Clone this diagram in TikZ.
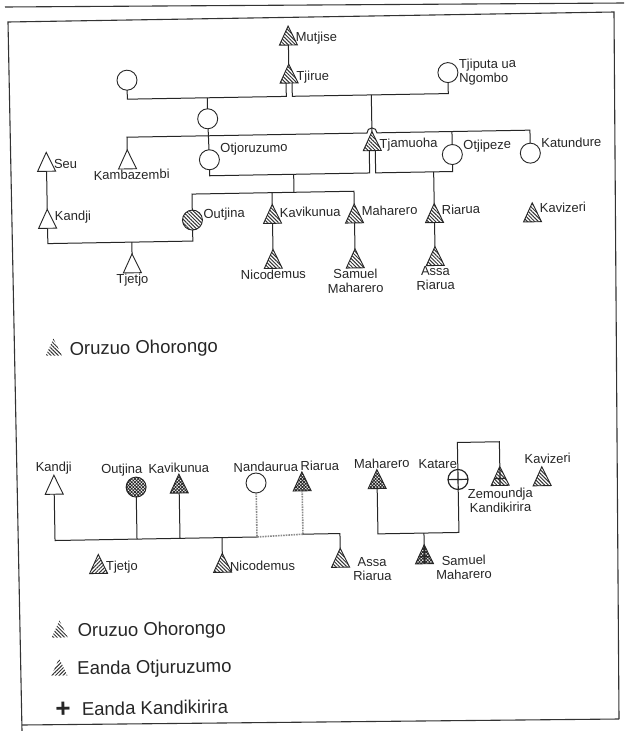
\documentclass[tikz,border=0pt]{standalone}
\usepackage{fontspec}
\setmainfont{Liberation Sans}
\usetikzlibrary{positioning,shapes.geometric,patterns.meta}

\newcommand{\lblfont}{\fontsize{13}{14}\selectfont}
\newcommand{\legfont}{\fontsize{18.5}{20}\selectfont}

\tikzset{
  kin/.style={draw=black!85, line width=1pt},
  frame/.style={draw=black!80, line width=1.1pt},
  person/.style={draw=black!85, line width=0.9pt, inner sep=0pt, outer sep=0pt, label distance=2pt},
  man/.style={person, isosceles triangle, isosceles triangle stretches, shape border rotate=90, minimum width=18pt, minimum height=19pt},
  woman/.style={person, circle, minimum size=20pt},
  oruzuo/.style={pattern={Lines[angle=-45,distance=2.6pt,line width=1pt]}, pattern color=black!80},
  otjuruzumo/.style={pattern={Lines[angle=45,distance=2.6pt,line width=1pt]}, pattern color=black!80},
  bothclans/.style={pattern={Hatch[angle=45,distance=2.3pt,line width=0.8pt]}, pattern color=black!85},
  crossT/.style={path picture={\draw[line width=1.2pt] (path picture bounding box.north) -- (path picture bounding box.south); \draw[line width=1.2pt] ([yshift=7pt]path picture bounding box.south west) -- ([yshift=7pt]path picture bounding box.south east);}},
  crossC/.style={line width=1.2pt, path picture={\draw[line width=1.2pt] (path picture bounding box.north) -- (path picture bounding box.south) (path picture bounding box.west) -- (path picture bounding box.east);}},
  every label/.style={font=\lblfont, text=black!85, inner sep=1pt},
  legicon/.style={isosceles triangle, isosceles triangle stretches, shape border rotate=90, minimum width=16pt, minimum height=17pt, inner sep=0pt},
  legtxt/.style={font=\legfont, text=black!85, inner sep=0pt},
  greyline/.style={draw=black!45, densely dotted, line width=1.6pt},
}

\begin{document}
\begin{tikzpicture}[x=1pt, y=-1pt]
\useasboundingbox (0,0) rectangle (625,731);
\fill[white] (0,0) rectangle (625,731);

\draw[frame] (5,7) -- (624,3);
\draw[frame] (22,731) -- (8,22) -- (614,12) -- (619,719);
\draw[frame] (21.8,725) -- (619,719);

\begin{scope}[transform canvas={rotate around={1:(312,365)}}]

\node[man, oruzuo, label={[yshift=1pt]right:Mutjise}] (mutjise) at (294,39) {};
\node[man, oruzuo, label={right:Tjirue}] (tjirue) at (294,77) {};
\node[woman] (wife) at (132,77) {};
\node[woman, label={[align=left]right:Tjiputa ua\\Ngombo}] (tjiputa) at (453,75) {};
\node[woman] (daughter) at (212,117) {};
\node[woman, label={[yshift=10pt]right:Otjoruzumo}] (otjoruzumo) at (213,158) {};
\node[man, label={[xshift=4pt]below:Kambazembi}] (kambazembi) at (131,160) {};
\node[man, oruzuo, label={right:Tjamuoha}] (tjamuoha) at (376,146) {};
\node[woman, label={[yshift=8pt]right:Otjipeze}] (otjipeze) at (456,157) {};
\node[woman, label={[yshift=10pt]right:Katundure}] (katundure) at (534,157) {};
\node[man, label={[yshift=1pt]right:Seu}] (seu) at (50,161) {};
\node[man, label={[yshift=5pt]right:Kandji}] (kandji) at (50,218) {};
\node[woman, oruzuo, label={[yshift=5pt]right:Outjina}] (outjina) at (195,218) {};
\node[man, oruzuo, label={[yshift=5pt]right:Kavikunua}] (kavikunua) at (275,217) {};
\node[man, oruzuo, label={[yshift=6pt]right:Maharero}] (maharero) at (357,218) {};
\node[man, oruzuo, label={[yshift=7pt]right:Riarua}] (riarua) at (437,219) {};
\node[man, oruzuo, label={[yshift=8pt]right:Kavizeri}] (kavizeri) at (535,220) {};
\node[man, label={below:Tjetjo}] (tjetjo) at (134,264) {};
\node[man, oruzuo, label={below:Nicodemus}] (nicodemus) at (275,262) {};
\node[man, oruzuo, label={[align=center]below:Samuel\\Maharero}] (samuel) at (357,263) {};
\node[man, oruzuo, label={[align=center]below:Assa\\Riarua}] (assa) at (437,262) {};

\coordinate (m1) at (212,96);
\coordinate (m2) at (376,96);
\coordinate (sib) at (131,134);
\coordinate (m3) at (297,174);
\coordinate (m4) at (437,174);
\coordinate (sib2) at (297,192);
\coordinate (m5) at (134,239);

\draw[kin] (mutjise) -- (tjirue);
\draw[kin] (wife) |- (m1) -| ([xshift=-3pt]tjirue.south);
\draw[kin] ([xshift=3pt]tjirue.south) |- (m2) -| (tjiputa);
\draw[kin] (m1) -- (daughter);
\draw[kin] (daughter) -- (otjoruzumo);
\draw[kin] (kambazembi) |- ([xshift=-5pt]m2 |- sib) arc[start angle=180, end angle=0, radius=5pt] -| (katundure);
\draw[kin] (otjipeze) -- (otjipeze |- sib);
\draw[kin] (m2) -- (tjamuoha);
\draw[kin] (otjoruzumo) |- (m3) -| ([xshift=-3pt]tjamuoha.south);
\draw[kin] ([xshift=3pt]tjamuoha.south) |- (m4) -| (otjipeze);
\draw[kin] (m3) -- (sib2);
\draw[kin] (outjina) |- (sib2) -| (maharero);
\draw[kin] (kavikunua) -- (kavikunua |- sib2);
\draw[kin] (m4) -- (riarua);
\draw[kin] (seu) -- (kandji);
\draw[kin] (kandji) |- (m5) -| (outjina);
\draw[kin] (m5) -- (tjetjo);
\draw[kin] (kavikunua) -- (nicodemus);
\draw[kin] (maharero) -- (samuel);
\draw[kin] (riarua) -- (assa);

\node[legicon, oruzuo] (legA) at (54,346) {};
\node[legtxt, right=10pt of legA] (legAtxt) {Oruzuo Ohorongo};

\node[man, label={above:Kandji}] (kandjiL) at (52,484) {};
\node[woman, bothclans, label={[xshift=-14pt]above:Outjina}] (outjinaL) at (134,484) {};
\node[man, bothclans, label={above:Kavikunua}] (kavikunuaL) at (177,485) {};
\node[woman, label={[xshift=10pt]above:Nandaurua}] (nandaurua) at (254,482) {};
\node[man, bothclans, label={[xshift=18pt]above:Riarua}] (riaruaL) at (300,485) {};
\node[man, bothclans, label={[xshift=5pt]above:Maharero}] (mahareroL) at (375,484) {};
\node[woman, crossC, label={[xshift=-20pt]above:Katare}] (katare) at (456,482) {};
\node[man, oruzuo, crossT, label={[align=center, yshift=-2pt]below:Zemoundja\\Kandikirira}] (zemoundja) at (498,483) {};
\node[man, oruzuo, label={[xshift=6pt, yshift=2pt]above:Kavizeri}] (kavizeriL) at (540,484) {};
\node[man, otjuruzumo, label={right:Tjetjo}] (tjetjoL) at (95,564) {};
\node[man, oruzuo, label={right:Nicodemus}] (nicodemusL) at (219,565) {};
\node[man, oruzuo, label={[align=center, xshift=5pt, yshift=-8pt]right:Assa\\Riarua}] (assaL) at (337,562) {};
\node[man, bothclans, crossT, label={[align=center, xshift=4pt, yshift=-10pt]right:Samuel\\Maharero}] (samuelL) at (421,560) {};

\coordinate (j1) at (254,536);
\coordinate (j2) at (300,534);
\coordinate (m6) at (421,535);
\coordinate (m7) at (477,445);

\draw[kin] (kandjiL) |- (j1);
\draw[kin] (outjinaL) -- (outjinaL |- j1);
\draw[kin] (kavikunuaL) -- (kavikunuaL |- j1);
\draw[kin] (nicodemusL) -- (nicodemusL |- j1);
\draw[greyline] (nandaurua) -- (j1) -- (j2);
\draw[greyline] (riaruaL) -- (j2);
\draw[kin] (j2) -| (assaL);
\draw[kin] (mahareroL) |- (m6) -| (katare);
\draw[kin] (m6) -- (samuelL);
\draw[kin] (katare) |- (m7) -| (zemoundja);

\node[legicon, oruzuo] (legB) at (55,628) {};
\node[legtxt, right=12pt of legB] (legBtxt) {Oruzuo Ohorongo};
\node[legicon, otjuruzumo] (legC) at (54,666) {};
\node[legtxt, right=12pt of legC] (legCtxt) {Eanda Otjuruzumo};
\node[font=\fontsize{26}{26}\selectfont\bfseries, text=black!85, inner sep=0pt] (legD) at (57,705) {+};
\node[legtxt, right=11pt of legD] (legDtxt) {Eanda Kandikirira};

\end{scope}
\end{tikzpicture}
\end{document}
